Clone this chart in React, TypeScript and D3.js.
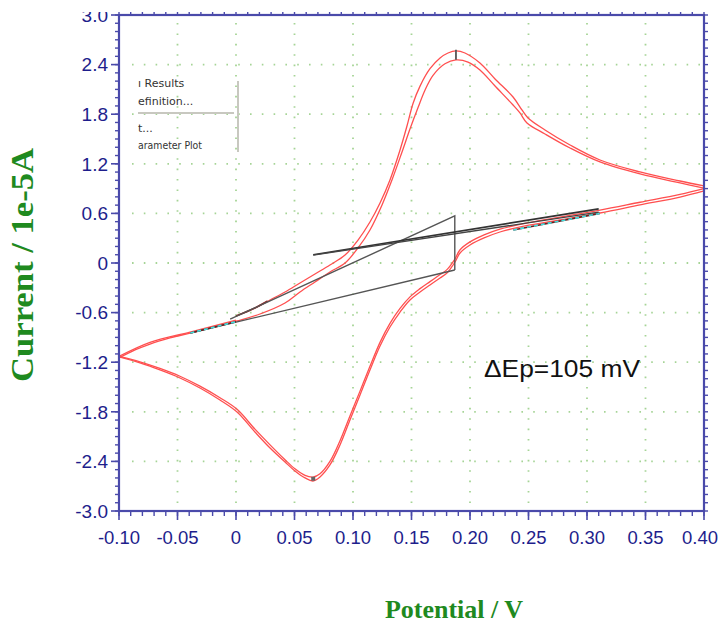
import React from "react";
import * as d3 from "d3";

// ---- axis ticks ----
const xTickValues = [-0.1, -0.05, 0, 0.05, 0.1, 0.15, 0.2, 0.25, 0.3, 0.35, 0.4];
const xTickLabels = ["-0.10", "-0.05", "0", "0.05", "0.10", "0.15", "0.20", "0.25", "0.30", "0.35", "0.40"];
const yTickValues = [3.0, 2.4, 1.8, 1.2, 0.6, 0, -0.6, -1.2, -1.8, -2.4, -3.0];
const yTickLabels = ["3.0", "2.4", "1.8", "1.2", "0.6", "0", "-0.6", "-1.2", "-1.8", "-2.4", "-3.0"];

// ---- CV trace segments (potential V, current 1e-5 A) ----
// segment 1: initial forward scan from 0 V to 0.4 V
const seg1X = [0.0, 0.0162, 0.0291, 0.0419, 0.0547, 0.0675, 0.0803, 0.0932, 0.1043, 0.1145, 0.1231, 0.1316, 0.1402, 0.1462, 0.1513, 0.1573, 0.1658, 0.1744, 0.1812, 0.188, 0.1957, 0.2085, 0.2214, 0.2368, 0.2444, 0.2496, 0.2641, 0.2855, 0.3111, 0.3453, 0.3795, 0.4];
const seg1Y = [-0.641, -0.544, -0.447, -0.351, -0.242, -0.133, -0.024, 0.097, 0.278, 0.496, 0.726, 1.004, 1.367, 1.66, 1.93, 2.14, 2.35, 2.48, 2.54, 2.565, 2.54, 2.419, 2.226, 2.008, 1.851, 1.754, 1.609, 1.427, 1.246, 1.101, 0.992, 0.932];
// segment 2: reverse scan 0.4 V -> -0.1 V
const seg2X = [0.4, 0.3795, 0.3453, 0.3111, 0.2769, 0.247, 0.2256, 0.212, 0.2, 0.1915, 0.1872, 0.1838, 0.1803, 0.1744, 0.1658, 0.1573, 0.1487, 0.1402, 0.1316, 0.1231, 0.1145, 0.106, 0.0974, 0.0889, 0.0803, 0.0718, 0.0658, 0.059, 0.0504, 0.0419, 0.0291, 0.0162, 0.0009, -0.0137, -0.0308, -0.0479, -0.065, -0.0821, -0.1];
const seg2Y = [0.871, 0.798, 0.702, 0.605, 0.52, 0.448, 0.375, 0.303, 0.218, 0.121, 0.012, -0.06, -0.121, -0.181, -0.266, -0.351, -0.447, -0.593, -0.774, -1.004, -1.294, -1.597, -1.899, -2.201, -2.443, -2.588, -2.637, -2.6, -2.516, -2.407, -2.238, -2.044, -1.802, -1.657, -1.512, -1.391, -1.294, -1.209, -1.137];
// segment 3: forward scan -0.1 V -> 0.4 V
const seg3X = [-0.1, -0.0863, -0.0735, -0.0564, -0.0393, -0.0222, 0.0009, 0.0205, 0.0419, 0.0547, 0.0675, 0.0803, 0.0932, 0.1043, 0.1145, 0.1248, 0.1333, 0.1419, 0.1487, 0.1556, 0.1615, 0.1684, 0.1786, 0.188, 0.1983, 0.2085, 0.2214, 0.2368, 0.2427, 0.2487, 0.2641, 0.2855, 0.3111, 0.3453, 0.3795, 0.4];
const seg3Y = [-1.149, -1.052, -0.98, -0.907, -0.847, -0.786, -0.701, -0.617, -0.484, -0.351, -0.23, -0.109, 0.0, 0.182, 0.399, 0.702, 1.004, 1.343, 1.62, 1.88, 2.09, 2.27, 2.41, 2.456, 2.431, 2.335, 2.141, 1.911, 1.815, 1.694, 1.561, 1.391, 1.222, 1.077, 0.968, 0.907];
// segment 4: reverse scan 0.4 V -> -0.1 V
const seg4X = [0.4, 0.3795, 0.3453, 0.3111, 0.2769, 0.247, 0.2256, 0.212, 0.2, 0.1915, 0.1872, 0.1838, 0.1803, 0.1744, 0.1658, 0.1573, 0.1487, 0.1402, 0.1316, 0.1231, 0.1145, 0.106, 0.0974, 0.0889, 0.0803, 0.0718, 0.0658, 0.059, 0.0504, 0.0419, 0.0291, 0.0162, 0.0009, -0.0137, -0.0308, -0.0479, -0.065, -0.0821, -0.1];
const seg4Y = [0.9, 0.83, 0.735, 0.64, 0.555, 0.48, 0.41, 0.34, 0.255, 0.16, 0.05, -0.02, -0.08, -0.14, -0.225, -0.31, -0.41, -0.55, -0.73, -0.96, -1.25, -1.55, -1.85, -2.15, -2.4, -2.55, -2.59, -2.57, -2.49, -2.38, -2.2, -2.01, -1.77, -1.63, -1.49, -1.37, -1.275, -1.195, -1.13];
// segment 5: final forward scan -0.1 V -> 0 V
const seg5X = [-0.1, -0.0735, -0.0393, 0.0];
const seg5Y = [-1.13, -0.96, -0.835, -0.69];
// first points of the trace, drawn darker
const startX = [0.0, 0.0162, 0.027];
const startY = [-0.641, -0.544, -0.46];

// ---- peak analysis overlay ----
const anodicBaseX = [-0.039, 0.187];
const anodicBaseY = [-0.847, -0.085];
const anodicFitX = [-0.039, 0.0];
const anodicFitY = [-0.847, -0.71];
const anodicPeakX = 0.188;
const anodicPeakY = [2.58, 2.46];
const triangleX = [0.187, 0.187, -0.005];
const triangleY = [-0.085, 0.569, -0.68];
const cathodicBaseX = [0.066, 0.31];
const cathodicBaseY1 = [0.1, 0.655];
const cathodicBaseY2 = [0.095, 0.615];
const cathodicFitX = [0.237, 0.311];
const cathodicFitY = [0.4, 0.6];
const cathodicPeak = [0.066, -2.61];

const menuItems = ["ı Results", "efinition...", "t...", "arameter Plot"];

const W = 720;
const H = 628;
const L = 119, R = 704, T = 15, B = 511;

export default function App() {
  const x = d3.scaleLinear().domain([-0.1, 0.4]).range([L, R]);
  const y = d3.scaleLinear().domain([-3, 3]).range([B, T]);
  const line = d3
    .line<[number, number]>()
    .x((d) => x(d[0]))
    .y((d) => y(d[1]))
    .curve(d3.curveCatmullRom.alpha(0.5));
  const straight = d3
    .line<[number, number]>()
    .x((d) => x(d[0]))
    .y((d) => y(d[1]));
  const zip = (a: number[], b: number[]) => a.map((v, i) => [v, b[i]] as [number, number]);

  const segs = [
    zip(seg1X, seg1Y),
    zip(seg2X, seg2Y),
    zip(seg3X, seg3Y),
    zip(seg4X, seg4Y),
    zip(seg5X, seg5Y),
  ];

  const xMinor = d3.range(0, 51).map((i) => -0.1 + i * 0.01);
  const yMinor = d3.range(0, 61).map((i) => -3 + i * 0.1);
  const axisColor = "#4a4aaa";
  const labelColor = "#1e1e8c";
  const grid = "#a6d496";
  const green = "#1f8a1f";

  return (
    <svg
      width={W}
      height={H}
      style={{ position: "absolute", left: 0, top: 0, background: "#fff" }}
      fontFamily="Arial, 'Liberation Sans', sans-serif"
    >
      <rect x={0} y={0} width={W} height={H} fill="#fff" />
      {/* grid */}
      {xTickValues.slice(1, -1).map((v, i) => (
        <line key={"gx" + i} x1={x(v)} x2={x(v)} y1={T + 8} y2={B} stroke={grid} strokeWidth={1.8} strokeDasharray="1.6 8.8" />
      ))}
      {yTickValues.slice(1, -1).map((v, i) => (
        <line key={"gy" + i} x1={L + 13} x2={R} y1={y(v)} y2={y(v)} stroke={grid} strokeWidth={1.8} strokeDasharray="1.6 10.2" />
      ))}

      {/* CV trace */}
      {segs.map((s, i) => (
        <path key={"s" + i} d={line(s) || ""} fill="none" stroke="#ff4f4f" strokeWidth={1.3} />
      ))}
      <path d={line(zip(startX, startY)) || ""} fill="none" stroke="#8a2a2a" strokeWidth={1.6} />

      {/* analysis overlay */}
      <path d={straight(zip(anodicBaseX, anodicBaseY)) || ""} stroke="#555" strokeWidth={1.4} fill="none" />
      <path d={straight(zip(triangleX, triangleY)) || ""} stroke="#555" strokeWidth={1.4} fill="none" />
      <path d={straight(zip(cathodicBaseX, cathodicBaseY1)) || ""} stroke="#333" strokeWidth={1.6} fill="none" />
      <path d={straight(zip(cathodicBaseX, cathodicBaseY2)) || ""} stroke="#444" strokeWidth={1.3} fill="none" />
      <path d={straight(zip(anodicFitX, anodicFitY)) || ""} stroke="#6a1e1e" strokeWidth={1.6} fill="none" />
      <path d={straight(zip(anodicFitX, anodicFitY)) || ""} stroke="#3fe0e0" strokeWidth={1.6} strokeDasharray="4 3" fill="none" />
      <path d={straight(zip(cathodicFitX, cathodicFitY)) || ""} stroke="#6a1e1e" strokeWidth={1.6} fill="none" />
      <path d={straight(zip(cathodicFitX, cathodicFitY)) || ""} stroke="#3fe0e0" strokeWidth={1.6} strokeDasharray="4 3" fill="none" />
      <line x1={x(anodicPeakX)} x2={x(anodicPeakX)} y1={y(anodicPeakY[0])} y2={y(anodicPeakY[1])} stroke="#555" strokeWidth={1.8} />
      <rect x={x(cathodicPeak[0]) - 2} y={y(cathodicPeak[1]) - 2} width={4} height={4} fill="#666" />

      {/* axes frame */}
      <rect x={L} y={T} width={R - L} height={B - T} fill="none" stroke={axisColor} strokeWidth={2.2} />
      {/* minor ticks */}
      {xMinor.map((v, i) => (
        <g key={"xm" + i}>
          <line x1={x(v)} x2={x(v)} y1={B} y2={B + 5} stroke={axisColor} strokeWidth={1.4} />
          <line x1={x(v)} x2={x(v)} y1={T} y2={T - 3} stroke={axisColor} strokeWidth={1.4} />
        </g>
      ))}
      {yMinor.map((v, i) => (
        <g key={"ym" + i}>
          <line x1={L} x2={L - 4} y1={y(v)} y2={y(v)} stroke={axisColor} strokeWidth={1.4} />
          <line x1={R} x2={R + 4} y1={y(v)} y2={y(v)} stroke={axisColor} strokeWidth={1.4} />
        </g>
      ))}
      {xTickValues.map((v, i) => (
        <line key={"xM" + i} x1={x(v)} x2={x(v)} y1={B} y2={B + 9} stroke={axisColor} strokeWidth={1.6} />
      ))}
      {yTickValues.map((v, i) => (
        <line key={"yM" + i} x1={L} x2={L - 8} y1={y(v)} y2={y(v)} stroke={axisColor} strokeWidth={1.6} />
      ))}
      {/* tick labels */}
      {yTickValues.map((v, i) => (
        <text key={"yl" + i} x={108} y={y(v)} dy="0.36em" textAnchor="end" fontSize={19} fill={labelColor}>
          {yTickLabels[i]}
        </text>
      ))}
      <rect x={60} y={0} width={55} height={12} fill="#fff" />
      {xTickValues.map((v, i) => (
        <text
          key={"xl" + i}
          x={Math.min(x(v), 700)}
          y={544}
          textAnchor="middle"
          fontSize={18.5}
          fill={labelColor}
        >
          {xTickLabels[i]}
        </text>
      ))}

      {/* axis titles */}
      <text
        transform="translate(33,265) rotate(-90)"
        textAnchor="middle"
        fontFamily="'Liberation Serif', 'Times New Roman', serif"
        fontWeight="bold"
        fontSize={31}
        fill={green}
        textLength={234}
        lengthAdjust="spacingAndGlyphs"
      >
        Current / 1e-5A
      </text>
      <text
        x={454}
        y={618}
        textAnchor="middle"
        fontFamily="'Liberation Serif', 'Times New Roman', serif"
        fontWeight="bold"
        fontSize={26}
        fill={green}
      >
        Potential / V
      </text>

      {/* annotation */}
      <text x={484} y={377} fontSize={24} fill="#111" textLength={156} lengthAdjust="spacingAndGlyphs">
        ΔEp=105 mV
      </text>

      {/* context menu remnant */}
      <g fontFamily="Tahoma, 'DejaVu Sans', sans-serif" fontSize={11} fill="#333">
        <text x={138} y={87}>{menuItems[0]}</text>
        <text x={138} y={105}>{menuItems[1]}</text>
        <text x={138} y={132}>{menuItems[2]}</text>
        <text x={138} y={149} textLength={64} lengthAdjust="spacingAndGlyphs">{menuItems[3]}</text>
      </g>
      <line x1={138} x2={234} y1={113} y2={113} stroke="#c8c8c0" strokeWidth={2} />
      <line x1={238} x2={238} y1={81} y2={152} stroke="#c8c8c0" strokeWidth={2} />
    </svg>
  );
}
